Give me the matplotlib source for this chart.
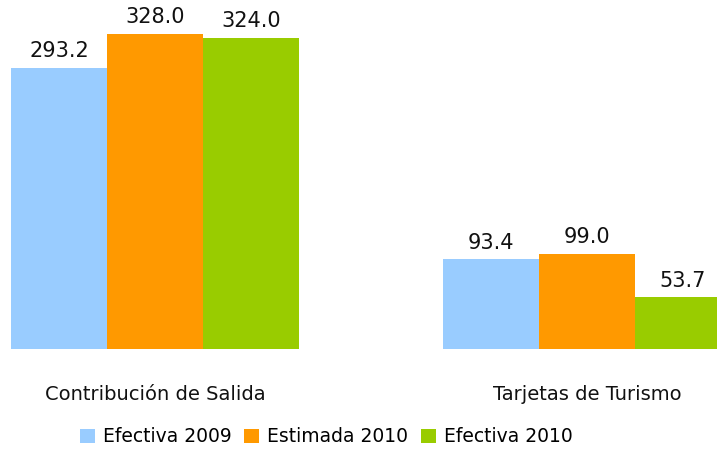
import numpy as np
import matplotlib
matplotlib.use("Agg")
import matplotlib.pyplot as plt
from matplotlib.patches import Patch

categories = ["Contribución de Salida", "Tarjetas de Turismo"]
series = ["Efectiva 2009", "Estimada 2010", "Efectiva 2010"]
efectiva_2009 = [293.2, 93.4]
estimada_2010 = [328.0, 99.0]
efectiva_2010 = [324.0, 53.7]
colors = ["#99CCFF", "#FF9900", "#99CC00"]

plt.rcParams["font.family"] = ["DejaVu Sans"]

fig = plt.figure(figsize=(7.17, 4.55), dpi=100)
ax = fig.add_axes([0.0, 0.233, 1.0, 0.723])

x = np.arange(len(categories))
w = 0.2222
for i, (vals, col) in enumerate(zip([efectiva_2009, estimada_2010, efectiva_2010], colors)):
    pos = x + (i - 1) * w
    ax.bar(pos, vals, w, color=col, linewidth=0)
    for px, v in zip(pos, vals):
        ax.text(px, v + 7, f"{v:.1f}", ha="center", va="bottom", fontsize=15, color="#111111")

ax.set_xlim(-0.359, 1.301)
ax.set_ylim(0, 342.7)
ax.set_yticks([])
ax.set_xticks(x)
ax.set_xticklabels(categories, fontsize=14, color="#111111")
ax.tick_params(axis="x", length=0, pad=26)
for s in ax.spines.values():
    s.set_visible(False)

handles = [Patch(facecolor=c, edgecolor="none", label=s) for s, c in zip(series, colors)]
fig.legend(handles=handles, loc="center", bbox_to_anchor=(0.455, 0.04), ncol=3,
           frameon=False, fontsize=13.5, handlelength=0.8, handleheight=0.8,
           handletextpad=0.4, columnspacing=0.7)

fig.savefig("out.png", dpi=100)
